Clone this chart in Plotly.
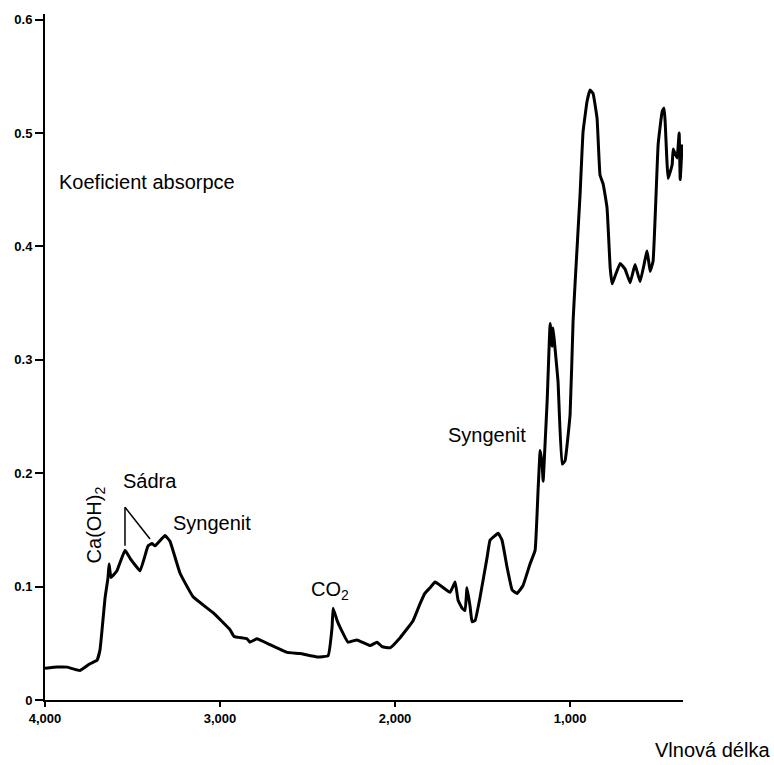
import plotly.graph_objects as go

wavenumber = [4000, 3930, 3874, 3800, 3743, 3703, 3686, 3674, 3657, 3640, 3634, 3623, 3589, 3543,
              3514, 3457, 3411, 3389, 3371, 3314, 3286, 3229, 3154, 3040, 2943, 2920, 2846, 2829,
              2789, 2731, 2617, 2543, 2446, 2383, 2360, 2354, 2331, 2314, 2269, 2217, 2143, 2103,
              2074, 2029, 1971, 1897, 1857, 1830, 1800, 1771, 1686, 1657, 1640, 1617, 1600, 1589,
              1571, 1560, 1543, 1514, 1474, 1457, 1411, 1389, 1360, 1331, 1303, 1269, 1229, 1200,
              1183, 1171, 1160, 1154, 1143, 1131, 1114, 1103, 1097, 1086, 1069, 1046, 1029, 1000,
              983, 971, 943, 926, 903, 886, 869, 846, 829, 811, 789, 771, 760, 743, 714, 686, 657,
              629, 600, 560, 543, 526, 497, 474, 463, 457, 440, 417, 411, 389, 377, 371, 360]
absorbance = [0.028, 0.029, 0.029, 0.026, 0.032, 0.035, 0.044, 0.062, 0.090, 0.108, 0.120, 0.108,
              0.114, 0.132, 0.125, 0.114, 0.136, 0.138, 0.136, 0.145, 0.140, 0.112, 0.091, 0.077,
              0.062, 0.056, 0.054, 0.051, 0.054, 0.050, 0.042, 0.041, 0.038, 0.039, 0.064, 0.081,
              0.070, 0.064, 0.051, 0.053, 0.048, 0.051, 0.047, 0.046, 0.055, 0.070, 0.085, 0.094,
              0.099, 0.104, 0.095, 0.104, 0.088, 0.081, 0.079, 0.099, 0.082, 0.069, 0.070, 0.091,
              0.126, 0.141, 0.147, 0.141, 0.117, 0.097, 0.094, 0.101, 0.120, 0.132, 0.185, 0.220,
              0.208, 0.193, 0.226, 0.264, 0.332, 0.312, 0.328, 0.310, 0.281, 0.208, 0.211, 0.252,
              0.334, 0.369, 0.446, 0.501, 0.528, 0.538, 0.535, 0.513, 0.463, 0.455, 0.434, 0.381,
              0.367, 0.374, 0.385, 0.380, 0.368, 0.384, 0.369, 0.396, 0.378, 0.387, 0.490, 0.519,
              0.522, 0.510, 0.460, 0.472, 0.486, 0.478, 0.500, 0.459, 0.490]

x_ticks = [4000, 3000, 2000, 1000]
x_tick_labels = ["4,000", "3,000", "2,000", "1,000"]
y_ticks = [0, 0.1, 0.2, 0.3, 0.4, 0.5, 0.6]
y_tick_labels = ["0", "0.1", "0.2", "0.3", "0.4", "0.5", "0.6"]

FONT = "Liberation Sans, Arial, sans-serif"

fig = go.Figure()
fig.add_trace(go.Scatter(x=wavenumber, y=absorbance, mode="lines",
                         line=dict(color="black", width=3, shape="spline", smoothing=0.3),
                         showlegend=False))

tickfont = dict(family=FONT, size=13, color="black", weight="bold")
fig.update_layout(
    width=774, height=765,
    margin=dict(l=45, r=91, t=12, b=65),
    paper_bgcolor="white", plot_bgcolor="white",
    xaxis=dict(range=[4000, 355], tickvals=x_ticks, ticktext=x_tick_labels,
               showgrid=False, zeroline=False, showline=True, linecolor="black", linewidth=2,
               ticks="outside", ticklen=5, tickwidth=2, tickcolor="black", tickfont=tickfont),
    yaxis=dict(range=[0, 0.605], tickvals=y_ticks, ticktext=y_tick_labels,
               showgrid=False, zeroline=False, showline=True, linecolor="black", linewidth=2,
               ticks="outside", ticklen=8, tickwidth=2, tickcolor="black", tickfont=tickfont),
    font=dict(family=FONT, color="black"),
)

ann_font = dict(family=FONT, size=20, color="black")
fig.add_annotation(text="Koeficient absorpce", xref="paper", yref="paper", x=0.301, y=0.755,
                   xanchor="right", yanchor="middle", showarrow=False, font=ann_font)
fig.add_annotation(text="Vlnová délka", xref="paper", yref="paper", x=1.139, y=-0.073,
                   xanchor="right", yanchor="middle", showarrow=False, font=ann_font)
fig.add_annotation(text="Ca(OH)<sub>2</sub>", x=3714, y=0.154, textangle=-90,
                   showarrow=False, font=ann_font)
fig.add_annotation(text="Sádra", x=3400, y=0.193, showarrow=False, font=ann_font)
fig.add_annotation(text="Syngenit", x=3046, y=0.156, showarrow=False, font=ann_font)
fig.add_annotation(text="CO<sub>2</sub>", x=2371, y=0.097, showarrow=False, font=ann_font)
fig.add_annotation(text="Syngenit", x=1474, y=0.234, showarrow=False, font=ann_font)

fig.add_shape(type="line", x0=3543, y0=0.170, x1=3543, y1=0.136,
              line=dict(color="black", width=1.5))
fig.add_shape(type="line", x0=3543, y0=0.170, x1=3400, y1=0.142,
              line=dict(color="black", width=1.5))

fig.write_html("out.html")
